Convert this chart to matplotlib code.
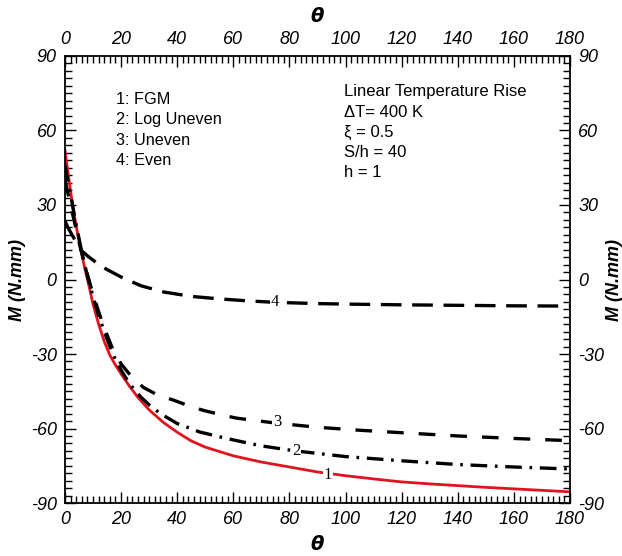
import matplotlib
matplotlib.use("Agg")
import matplotlib.pyplot as plt
from matplotlib.ticker import MultipleLocator

# curve 1: FGM
theta_fgm = [0, 1, 2, 3, 4, 5, 6, 7, 8, 9, 10, 12, 14, 16, 18, 20, 23, 26, 30, 35,
             40, 45, 50, 60, 70, 80, 90, 100, 110, 120, 130, 140, 150, 160, 170, 180]
m_fgm = [52, 43.5, 35.5, 28, 21.5, 15.5, 10, 4.8, 0, -4.8, -10, -18, -25, -30.5, -34.5, -38,
         -43, -47.5, -52.5, -57.5, -61.5, -65, -67.5, -71, -73.5, -75.5, -77.5, -79, -80.3,
         -81.5, -82.3, -83, -83.7, -84.3, -84.9, -85.5]

# curve 2: Log Uneven
theta_log = [0, 1, 2, 3, 4, 5, 6, 7, 8, 10, 12, 14, 17, 20, 23, 27, 30, 34, 40, 48, 55,
             60, 70, 82, 100, 120, 140, 160, 180]
m_log = [46, 40, 34, 28, 22, 16.5, 11, 6, 1.5, -7, -14.5, -21, -30, -36.5, -42, -47.3, -50.5,
         -54, -58, -61.4, -63.3, -64.6, -67, -69, -71.3, -73, -74.5, -75.5, -76.3]

# curve 3: Uneven
theta_unev = [0, 1, 2, 3, 4, 5, 6, 8, 10, 12, 14, 17, 20, 24, 28, 33, 38.5, 44, 49, 55, 61,
              75, 90, 105, 120, 140, 160, 180]
m_unev = [40, 35, 30, 25, 20, 15, 10.5, 2, -6, -13, -19.5, -28, -34, -39.5, -43.5, -46.5,
          -48.5, -50.8, -52.6, -54.3, -55.8, -57.8, -59.5, -60.7, -61.7, -63, -64, -64.9]

# curve 4: Even
theta_even = [0, 1, 2, 3, 4, 5, 6, 8, 10, 12, 15, 20, 27, 35, 45, 55, 65, 75, 90, 100, 120,
              140, 160, 180]
m_even = [23.5, 21, 19, 17, 15, 13, 11.5, 9.5, 7.8, 6, 4, 1, -2.5, -5, -6.8, -7.8, -8.6, -9.2,
          -9.7, -9.9, -10.2, -10.4, -10.6, -10.7]

curve_labels = ["1", "2", "3", "4"]
label_pos = [(93.7, -78.7), (82.3, -69), (75.5, -57.3), (74.8, -9.2)]

legend_lines = ["1: FGM", "2: Log Uneven", "3: Uneven", "4: Even"]
info_lines = ["Linear Temperature Rise", "\u0394T= 400 K", "\u03be = 0.5", "S/h = 40", "h = 1"]

plt.rcParams['font.family'] = ['Liberation Sans', 'DejaVu Sans']
plt.rcParams['font.style'] = 'italic'
plt.rcParams['axes.unicode_minus'] = False

fig = plt.figure(figsize=(6.22, 5.56), dpi=100)
ax = fig.add_axes([0.1045, 0.0953, 0.8119, 0.804])

ax.plot(theta_fgm, m_fgm, color="#e0141e", lw=2)
ax.plot(theta_log, m_log, color="black", lw=2.4, dashes=(5, 2.3, 0.8, 2.3))
ax.plot(theta_unev, m_unev, color="black", lw=2.4, dashes=(5, 4.5))
ax.plot(theta_even, m_even, color="black", lw=2.4, dashes=(6.2, 3.2))

for lab, (tx, ty) in zip(curve_labels, label_pos):
    ax.text(tx, ty, lab, family="Liberation Serif", style="normal", fontsize=12,
            ha="center", va="center",
            bbox=dict(facecolor="white", edgecolor="none", pad=0.5))

ax.set_xlim(0, 180)
ax.set_ylim(-90, 90)
ax.xaxis.set_major_locator(MultipleLocator(20))
ax.xaxis.set_minor_locator(MultipleLocator(2))
ax.yaxis.set_major_locator(MultipleLocator(30))
ax.yaxis.set_minor_locator(MultipleLocator(3))
ax.tick_params(which="both", direction="in", top=True, right=True,
               labeltop=True, labelright=True, width=1)
ax.tick_params(which="major", length=8, labelsize=13, pad=6)
ax.tick_params(which="minor", length=5)
for s in ax.spines.values():
    s.set_linewidth(1.3)

ax.set_xlabel("\u03b8", fontsize=14, fontweight="bold", style="italic",
              family="DejaVu Sans", labelpad=5)
ax.text(0.5, 1.066, "\u03b8", transform=ax.transAxes, fontsize=14, fontweight="bold",
        style="italic", family="DejaVu Sans", ha="center", va="bottom")
ax.set_ylabel("M (N.mm)", fontsize=13, fontweight="bold", style="italic", labelpad=3)
ax.text(1.088, 0.5, "M (N.mm)", transform=ax.transAxes, fontsize=13, fontweight="bold",
        style="italic", rotation=90, ha="center", va="center")

for i, s in enumerate(legend_lines):
    ax.text(18.2, 72.5 - i * 8.2, s, fontsize=11.7, style="normal", va="center", ha="left")
for i, s in enumerate(info_lines):
    ax.text(99.4, 75.5 - i * 8.1, s, fontsize=12, style="normal", va="center", ha="left")

fig.savefig("out.png", dpi=100)
